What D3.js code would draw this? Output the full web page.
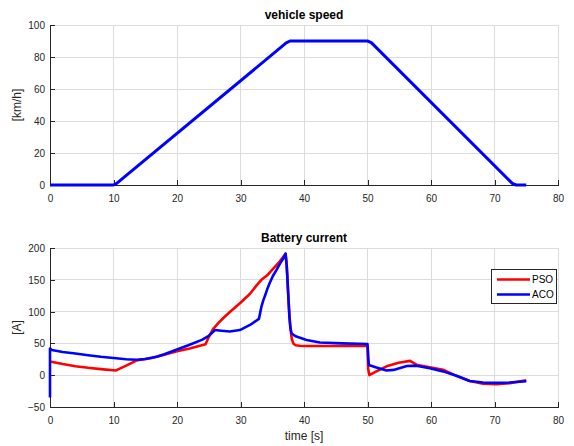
<!DOCTYPE html>
<html>
<head>
<meta charset="utf-8">
<script src="https://cdn.jsdelivr.net/npm/d3@7"></script>
<style>
  html, body { margin: 0; padding: 0; background: #fff; }
  svg { display: block; font-family: "Liberation Sans", Arial, Helvetica, sans-serif; }
</style>
</head>
<body>
<svg id="chart" width="574" height="446"></svg>
<script>
// ---- vehicle speed profile ----
const speedTime = [0, 10, 10.5, 37.2, 37.8, 50, 50.6, 72.8, 73.4, 75];
const speedKmh  = [0, 0, 1, 88.8, 90, 90, 89, 1, 0, 0];

// ---- battery current, PSO strategy ----
const psoTime = [0, 2, 4, 6, 8, 10.4, 12, 13.6, 16, 18, 20, 22, 24.5, 25, 25.7, 26.5, 27.3, 28.5,
  30, 31.5, 32.6, 33.3, 34.2, 35.2, 36.2, 37.1, 37.3, 37.5, 37.7, 37.9, 38.1, 38.35, 38.7, 39.3, 40, 50,
  50.1, 50.3, 51.4, 53, 54.9, 56.7, 57.7, 59.8, 61.9, 64, 66.1, 68.2, 70.3, 72.4, 75];
const psoCurrent = [21.4, 17.5, 14.2, 11.6, 9.5, 7.5, 15, 23, 27, 32, 37.5, 42, 48.5, 60, 73, 82, 90, 101,
  114, 128, 142, 150, 157, 168, 179, 191, 170, 130, 95, 70, 56, 49.5, 47, 46.2, 46, 46,
  10, 0, 6, 14, 19.5, 22.5, 16.5, 12.5, 8.5, -1, -9, -13.5, -14, -12.5, -8];

// ---- battery current, ACO strategy ----
const acoTime = [0, 0, 0.3, 2, 4, 6, 8, 10, 12, 13.6, 15, 16.8, 18, 19.9, 22, 24, 25, 26, 27, 28.3,
  29.9, 31.5, 32.9, 33.1, 33.3, 33.6, 33.9, 34.2, 34.6, 35.1, 35.7, 36.2, 36.7, 37.1,
  37.25, 37.4, 37.55, 37.7, 37.85, 38.05, 38.4, 38.8, 40.4,
  42.5, 46, 50, 50.2, 51.4, 53, 54.1, 56.2, 57.7, 59.8, 61.9, 64, 66.1, 68.2, 70.3, 72.4, 75];
const acoCurrent = [-35, 42, 39.5, 36.5, 34, 31.5, 29, 27, 25, 24.3, 25.5, 29, 33, 40, 48, 56, 62, 71, 70, 68.6,
  71, 79, 88.5, 98, 108, 118, 126, 135, 145, 156, 166, 175, 183, 191,
  175, 150, 120, 92, 75, 66, 63, 60.7, 55.5,
  51.5, 50, 49, 16, 12, 7.5, 8.3, 14.5, 15, 11, 6, -1, -9, -11.5, -12, -11.5, -9.5];

// ---- axis ticks and labels ----
const timeTicks = [0, 10, 20, 30, 40, 50, 60, 70, 80];
const speedTicks = [0, 20, 40, 60, 80, 100];
const currentTicks = [-50, 0, 50, 100, 150, 200];
const legendNames = ["PSO", "ACO"];
const seriesColors = ["#ff0000", "#0000ff"];

const svg = d3.select("#chart");
const gridColor = "#dcdcdc";
const axisColor = "#262626";

const x = d3.scaleLinear().domain([0, 80]).range([50, 558]);
const ySpeed = d3.scaleLinear().domain([0, 100]).range([185, 25]);
const yCurrent = d3.scaleLinear().domain([-50, 200]).range([407, 248]);

function panel(y, yTicks, title, yLabel) {
  const [yb, yt] = y.range();
  const g = svg.append("g");
  // grid
  g.append("g").selectAll("line").data(timeTicks).join("line")
    .attr("x1", d => x(d)).attr("x2", d => x(d))
    .attr("y1", yt).attr("y2", yb)
    .attr("stroke", gridColor).attr("stroke-width", 1).attr("shape-rendering", "crispEdges");
  g.append("g").selectAll("line").data(yTicks).join("line")
    .attr("x1", x(0)).attr("x2", x(80))
    .attr("y1", d => y(d)).attr("y2", d => y(d))
    .attr("stroke", gridColor).attr("stroke-width", 1).attr("shape-rendering", "crispEdges");

  // axes with inward ticks
  const xAxis = g.append("g").attr("transform", `translate(0,${yb})`)
    .call(d3.axisBottom(x).tickValues(timeTicks).tickSizeInner(-5).tickSizeOuter(0).tickPadding(0).tickFormat(d3.format("d")));
  const yAxis = g.append("g").attr("transform", `translate(${x(0)},0)`)
    .call(d3.axisLeft(y).tickValues(yTicks).tickSizeInner(-5).tickSizeOuter(0).tickPadding(0).tickFormat(d3.format("d")));
  [xAxis, yAxis].forEach(a => {
    a.select(".domain").attr("stroke", axisColor).attr("shape-rendering", "crispEdges");
    a.selectAll(".tick line").attr("stroke", axisColor).attr("shape-rendering", "crispEdges");
    a.selectAll(".tick text").attr("fill", axisColor).attr("font-size", 10)
      .attr("font-family", "'Liberation Sans', Arial, sans-serif");
  });
  xAxis.selectAll(".tick text").attr("dy", null).attr("y", 17);
  yAxis.selectAll(".tick text").attr("x", -5).attr("dy", "0.35em").attr("text-anchor", "end");

  // title
  g.append("text").attr("x", (x(0) + x(80)) / 2).attr("y", yt - 6)
    .attr("text-anchor", "middle").attr("font-size", 12).attr("font-weight", "bold")
    .attr("fill", "#000").text(title);
  // y label
  g.append("text")
    .attr("transform", `translate(21,${(yt + yb) / 2}) rotate(-90)`)
    .attr("text-anchor", "middle").attr("font-size", 12).attr("fill", axisColor).text(yLabel);
  return g;
}

const speedPanel = panel(ySpeed, speedTicks, "vehicle speed", "[km/h]");
const currentPanel = panel(yCurrent, currentTicks, "Battery current", "[A]");

// speed trace
const speedLine = d3.line().x(d => x(d[0])).y(d => ySpeed(d[1]));
speedPanel.append("path")
  .attr("d", speedLine(d3.zip(speedTime, speedKmh)))
  .attr("fill", "none").attr("stroke", "#0000ff").attr("stroke-width", 3)
  .attr("stroke-linejoin", "round");

// current traces
const curLine = d3.line().x(d => x(d[0])).y(d => yCurrent(d[1])).curve(d3.curveLinear);
const series = [d3.zip(psoTime, psoCurrent), d3.zip(acoTime, acoCurrent)];
series.forEach((s, i) => {
  currentPanel.append("path")
    .attr("d", curLine(s))
    .attr("fill", "none").attr("stroke", seriesColors[i]).attr("stroke-width", 2.6)
    .attr("stroke-linejoin", "round");
});

// x label
svg.append("text").attr("x", (x(0) + x(80)) / 2).attr("y", 439.5)
  .attr("text-anchor", "middle").attr("font-size", 12).attr("fill", axisColor).text("time [s]");

// legend
const lg = svg.append("g");
lg.append("rect").attr("x", 491.5).attr("y", 269.5).attr("width", 65).attr("height", 34)
  .attr("fill", "#fff").attr("stroke", axisColor).attr("stroke-width", 1);
legendNames.forEach((name, i) => {
  const yy = 279.5 + i * 15;
  lg.append("line").attr("x1", 497).attr("x2", 530).attr("y1", yy).attr("y2", yy)
    .attr("stroke", seriesColors[i]).attr("stroke-width", 2.6);
  lg.append("text").attr("x", 532).attr("y", yy).attr("dy", "0.35em")
    .attr("font-size", 10).attr("fill", "#000").text(name);
});
</script>
</body>
</html>
